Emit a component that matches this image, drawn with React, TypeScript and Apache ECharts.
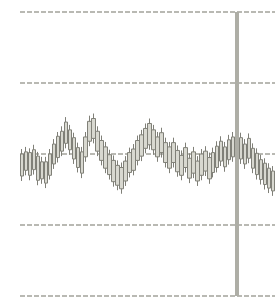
import React, { useEffect, useRef } from "react";
import * as echarts from "echarts";

const openVals = [2.00,1.77,2.02,1.78,1.97,1.65,1.89,1.70,1.86,2.25,2.04,2.45,2.06,2.23,1.81,2.03,1.96,2.18,2.50,2.32,1.91,2.10,1.71,1.91,1.56,1.81,1.62,1.74,2.07,1.91,2.27,2.08,2.43,2.34,1.96,2.30,1.88,2.10,1.88,2.05,1.70,2.09,1.66,2.03,1.62,2.00,1.76,1.95,1.74,2.11,1.90,2.10,1.92,2.24,2.02,2.23,1.86,2.22,1.80,2.01,1.64,1.87,1.52,1.76];
const closeVals = [1.69,2.03,1.70,2.06,1.63,1.89,1.59,2.00,2.14,1.95,2.32,2.15,2.34,1.93,2.09,1.73,2.24,2.46,2.22,2.04,2.19,1.80,1.99,1.61,1.84,1.51,1.90,2.02,1.77,2.19,1.97,2.36,2.13,2.06,2.24,2.02,2.16,1.80,2.16,1.75,1.98,1.81,1.94,1.73,1.90,1.70,2.04,1.65,2.02,1.81,2.18,1.82,2.20,1.96,2.30,1.93,2.14,1.94,2.08,1.71,1.92,1.57,1.80,1.48];
const lowVals = [1.62,1.70,1.63,1.71,1.56,1.58,1.52,1.64,1.79,1.88,1.97,2.08,1.99,1.86,1.74,1.66,1.89,2.11,2.15,1.97,1.84,1.73,1.64,1.54,1.49,1.44,1.55,1.67,1.70,1.84,1.90,2.01,2.06,1.99,1.89,1.95,1.81,1.73,1.81,1.68,1.63,1.74,1.59,1.66,1.55,1.63,1.69,1.58,1.67,1.74,1.83,1.75,1.85,1.89,1.95,1.86,1.79,1.87,1.73,1.64,1.57,1.50,1.45,1.41];
const highVals = [2.07,2.10,2.08,2.13,2.03,1.96,1.96,2.07,2.21,2.31,2.39,2.52,2.41,2.30,2.16,2.10,2.31,2.54,2.57,2.39,2.26,2.17,2.06,1.98,1.91,1.88,1.97,2.09,2.14,2.26,2.34,2.43,2.50,2.41,2.31,2.37,2.23,2.17,2.23,2.12,2.05,2.16,2.01,2.10,1.97,2.07,2.11,2.02,2.09,2.18,2.25,2.17,2.27,2.31,2.37,2.30,2.21,2.29,2.15,2.08,1.99,1.94,1.87,1.83];
const categories = openVals.map((_, i) => String(i + 1));
const markerIndex = 54;

export default function App() {
  const ref = useRef<HTMLDivElement>(null);
  useEffect(() => {
    if (!ref.current) return;
    const chart = echarts.init(ref.current, null, { renderer: "svg" });
    const data = openVals.map((o, i) => [o, closeVals[i], lowVals[i], highVals[i]]);
    chart.setOption({
      animation: false,
      backgroundColor: "#ffffff",
      grid: { left: 20, right: 0, top: 12, bottom: 10 },
      xAxis: {
        type: "category",
        data: categories,
        axisLine: { show: false },
        axisTick: { show: false },
        axisLabel: { show: false },
        splitLine: { show: false },
      },
      yAxis: {
        type: "value",
        min: 0,
        max: 4,
        interval: 1,
        axisLine: { show: false },
        axisTick: { show: false },
        axisLabel: { show: false },
        splitLine: {
          show: true,
          lineStyle: { color: "#a2a29a", width: 1.5, type: [5, 2] },
        },
      },
      series: [
        {
          type: "candlestick",
          data,
          barWidth: 4,
          itemStyle: {
            color: "#d8d8d0",
            color0: "#d8d8d0",
            borderColor: "#808078",
            borderColor0: "#808078",
            borderWidth: 1,
          },
          markLine: {
            silent: true,
            symbol: "none",
            label: { show: false },
            lineStyle: { color: "#aeaea6", width: 4, type: "solid" },
            data: [{ xAxis: markerIndex }],
          },
        },
      ],
    });
    return () => chart.dispose();
  }, []);
  return (
    <div
      ref={ref}
      style={{ position: "fixed", left: 0, top: 0, width: 275, height: 306 }}
    />
  );
}
